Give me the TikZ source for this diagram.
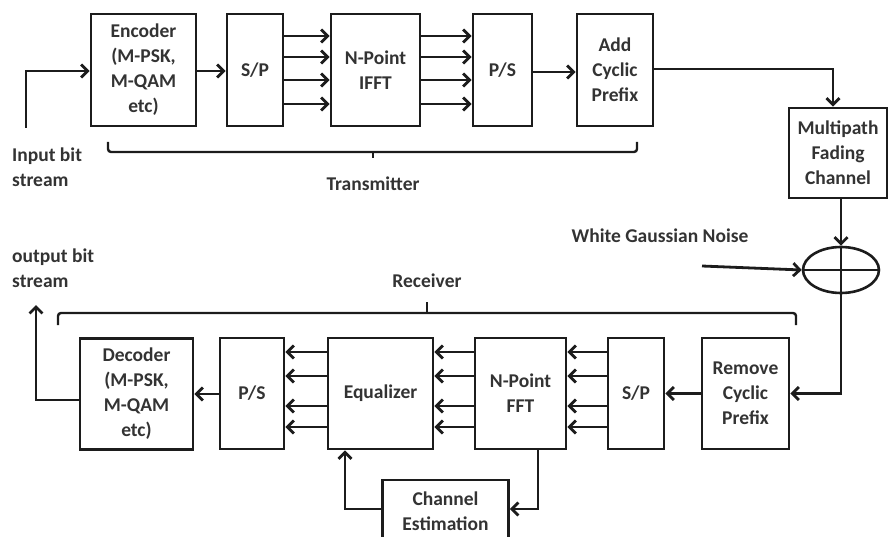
\documentclass[tikz,border=0pt]{standalone}
\usepackage{fontspec}
\setmainfont{Carlito}
\usetikzlibrary{arrows.meta,positioning,calc,shapes.geometric}
\definecolor{Ink}{HTML}{1C1C1C}
\definecolor{TextGray}{HTML}{333333}
\tikzset{
 block/.style={draw=Ink, line width=2.8pt, fill=white, minimum height=112pt, align=center, inner sep=2pt, font=\bfseries\fontsize{19.5}{25}\selectfont, text=TextGray},
 adder/.style={draw=Ink, line width=2.6pt, ellipse, minimum width=76pt, minimum height=46pt, inner sep=0pt},
 arrow/.style={-{Straight Barb[length=6.5pt,width=13pt]}, line width=2.8pt, draw=Ink},
 wire/.style={line width=2.6pt, draw=Ink},
 bracket/.style={line width=2.4pt, draw=Ink, rounded corners=3pt},
 lbl/.style={font=\bfseries\fontsize{19.5}{25}\selectfont, text=TextGray, align=left, inner sep=0pt}
}

\begin{document}
\begin{tikzpicture}[x=1pt,y=-1pt]
\clip (0,0) rectangle (888,537);
% transmitter chain
\node[block, minimum width=105pt] (enc) at (143.5,70) {Encoder\\(M-PSK,\\M-QAM\\etc)};
\node[block, minimum width=56pt] (sp1) at (255,70) {S/P};
\node[block, minimum width=89pt] (ifft) at (375.5,70) {N-Point\\IFFT};
\node[block, minimum width=59pt] (ps1) at (502.5,70) {P/S};
\node[block, minimum width=76pt] (acp) at (615,70) {Add\\Cyclic\\Prefix};
% channel
\node[block, minimum width=98pt, minimum height=90pt] (mfc) at (838,153) {Multipath\\Fading\\Channel};
\node[adder] (sum) at (841,270) {};
% receiver chain
\node[block, minimum width=87pt, minimum height=111pt] (rcp) at (745.5,393.5) {Remove\\Cyclic\\Prefix};
\node[block, minimum width=56pt, minimum height=111pt] (sp2) at (636,393.5) {S/P};
\node[block, minimum width=91pt, minimum height=111pt] (fft) at (520.5,393.5) {N-Point\\FFT};
\node[block, minimum width=105pt, minimum height=111pt] (eq) at (380.5,393.5) {Equalizer};
\node[block, minimum width=64pt, minimum height=111pt] (ps2) at (252,393.5) {P/S};
\node[block, minimum width=113pt, minimum height=111pt] (dec) at (136.5,394) {Decoder\\(M-PSK,\\M-QAM\\etc)};
\node[block, minimum width=126pt, minimum height=62pt] (che) at (445.5,511) {Channel\\Estimation};

% labels
\node[lbl, anchor=west] (inp) at (12,167) {Input bit\\stream};
\node[lbl, anchor=west] (outp) at (12,268) {output bit\\stream};
\node[lbl] (tx) at (373,184) {Transmitter};
\node[lbl] (rx) at (427,281) {Receiver};
\node[lbl] (awgn) at (660,236) {White Gaussian Noise};
\coordinate (in) at (26,128);
\coordinate (out) at (36,305);
\coordinate (noise) at (702,266);

% transmitter connectors
\draw[arrow] (in) |- ([yshift=-1pt]enc.west);
\draw[arrow] ([yshift=-1pt]enc.east) -- ([yshift=-1pt]sp1.west);
\foreach \y in {36,57,80,104} {
  \draw[arrow] (sp1.east |- 0,\y) -- (ifft.west |- 0,\y);
  \draw[arrow] (ifft.east |- 0,\y) -- (ps1.west |- 0,\y);
}
\draw[arrow] ([yshift=-2pt]ps1.east) -- ([yshift=-2pt]acp.west);
\draw[arrow] ([yshift=1pt]acp.east) -| ([xshift=-5pt]mfc.north);
\draw[arrow] (mfc.south -| sum.north) -- (sum.north);
\draw[arrow] (noise) -- (sum.west);
\draw[wire] (sum.north) -- (sum.south);
\draw[wire] (sum.west) -- (sum.east);

% receiver connectors
\draw[arrow] (sum.south) |- (rcp.east);
\draw[arrow] (rcp.west) -- (sp2.east);
\foreach \y in {352,376,406,427} {
  \draw[arrow] (sp2.west |- 0,\y) -- (fft.east |- 0,\y);
  \draw[arrow] (fft.west |- 0,\y) -- (eq.east |- 0,\y);
  \draw[arrow] (eq.west |- 0,\y) -- (ps2.east |- 0,\y);
}
\draw[arrow] (ps2.west |- 0,394) -- (dec.east |- 0,394);
\draw[arrow] ([yshift=-6pt]dec.west) -| (out);
\draw[arrow] ([xshift=17.5pt]fft.south) |- ([yshift=2pt]che.east);
\draw[arrow] ([yshift=2pt]che.west) -| ([xshift=-35.5pt]eq.south);

% brackets
\draw[bracket] (108,142) -- (108,152) -- (637,152) -- (637,142);
\draw[bracket] (tx.north |- 0,152) -- (tx.north |- 0,158);
\draw[bracket] (58,325) -- (58,313) -- (796,313) -- (796,325);
\draw[bracket] (rx.south |- 0,313) -- (rx.south |- 0,302);
\end{tikzpicture}
\end{document}
